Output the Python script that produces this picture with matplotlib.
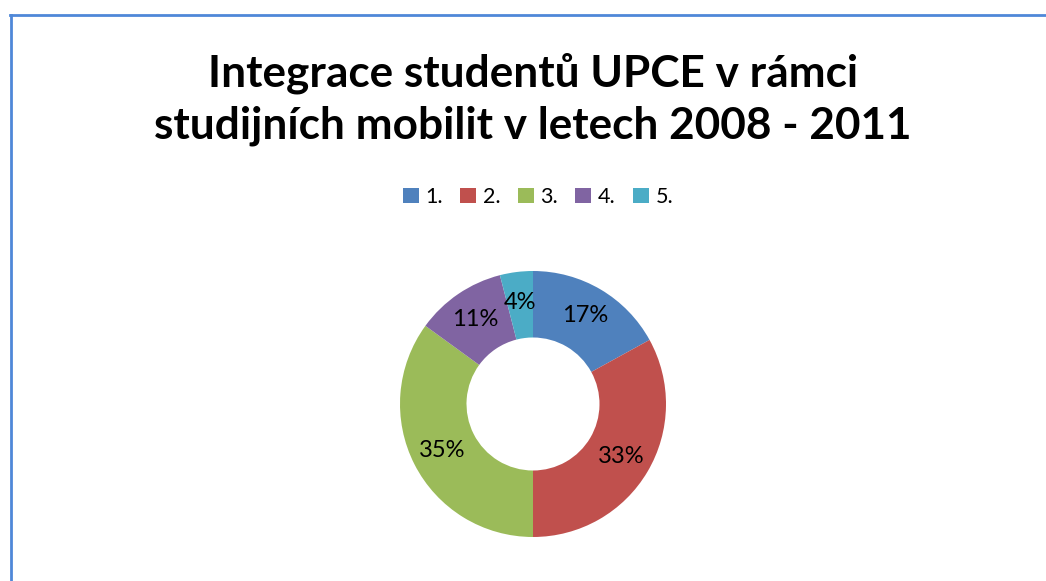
import matplotlib
matplotlib.use("Agg")
import matplotlib.pyplot as plt
from matplotlib.lines import Line2D
from matplotlib.patches import Patch

categories = ["1.", "2.", "3.", "4.", "5."]
values = [17, 33, 35, 11, 4]
colors = ["#4F81BD", "#C0504D", "#9BBB59", "#8064A2", "#4BACC6"]
title_lines = ["Integrace studentů UPCE v rámci", "studijních mobilit v letech 2008 - 2011"]

W, H = 1046, 581
plt.rcParams['font.family'] = ['Lato', 'DejaVu Sans']
fig = plt.figure(figsize=(W / 100, H / 100), dpi=100)

# border (top and left visible)
fig.add_artist(Line2D([10 / W, 1.0], [1 - 14.5 / H, 1 - 14.5 / H], transform=fig.transFigure,
                      color="#4F88D8", lw=2.0))
fig.add_artist(Line2D([11 / W, 11 / W], [1 - 14.5 / H, 0], transform=fig.transFigure,
                      color="#4F88D8", lw=2.0))

for line, y in zip(title_lines, [73, 126]):
    fig.text(533 / W, 1 - y / H, line, ha="center", va="center", fontsize=31.8,
             fontweight="bold")

cx, cy, r = 533, 404, 133
ax = fig.add_axes([(cx - r) / W, (H - cy - r) / H, 2 * r / W, 2 * r / H])
wedges, texts, autotexts = ax.pie(values, colors=colors, startangle=90, counterclock=False,
                                  radius=1.0, wedgeprops=dict(width=0.5, linewidth=0),
                                  autopct="%.0f%%", pctdistance=0.77,
                                  textprops=dict(fontsize=17, color="black"))
ax.set_xlim(-1, 1)
ax.set_ylim(-1, 1)
ax.set_aspect("equal")
ax.axis("off")

handles = [Patch(facecolor=c, edgecolor="none") for c in colors]
fig.legend(handles, categories, loc="center", bbox_to_anchor=(538 / W, 1 - 197 / H), ncol=5,
           frameon=False, fontsize=15.5, handlelength=0.75, handleheight=0.75,
           handletextpad=0.3, columnspacing=0.8)

fig.savefig("out.png", dpi=100, facecolor="white")
